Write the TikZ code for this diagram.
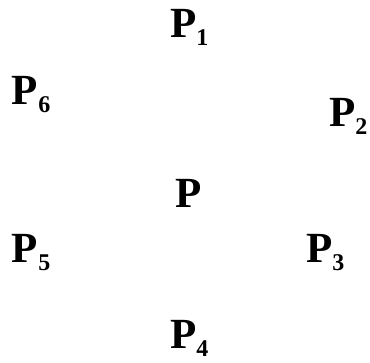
\documentclass[tikz,border=0pt]{standalone}
\usepackage{fontspec}
\setmainfont{Liberation Serif}
\newcommand{\bigP}{{\fontsize{43}{43}\selectfont\bfseries P}}
\newcommand{\lbl}[1]{\bigP{\fontsize{24}{24}\selectfont\bfseries\raisebox{-8pt}{#1}}}
\begin{document}
\begin{tikzpicture}[x=1pt,y=-1pt,lab/.style={anchor=base west,inner sep=0pt,outer sep=0pt}]
\useasboundingbox (0,0) rectangle (370,363);
\node[lab] (p1) at (170,38) {\lbl{1}};
\node[lab] (p6) at (12,105) {\lbl{6}};
\node[lab] (p2) at (329,127) {\lbl{2}};
\node[lab] (p) at (175,208) {\bigP};
\node[lab] (p5) at (12,263) {\lbl{5}};
\node[lab] (p3) at (306,263) {\lbl{3}};
\node[lab] (p4) at (170,349) {\lbl{4}};
\end{tikzpicture}
\end{document}
